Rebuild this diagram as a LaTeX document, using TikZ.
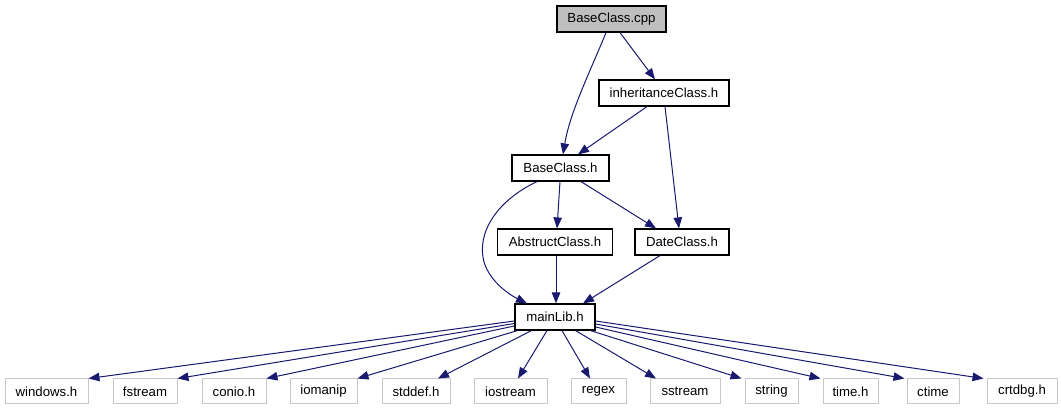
\documentclass[tikz,border=0pt]{standalone}
\usepackage{fontspec}
\setmainfont{Liberation Sans}
\usetikzlibrary{arrows.meta,calc}
\definecolor{edgeblue}{HTML}{191970}
\definecolor{boxgray}{HTML}{BFBFBF}
\definecolor{lightborder}{HTML}{C8C8C8}
\begin{document}
\begin{tikzpicture}[x=1pt,y=-1pt,
  every node/.style={font=\fontsize{13.2}{15}\selectfont, inner sep=0pt, minimum height=26pt},
  mainbox/.style={draw=black, line width=1.2pt, fill=white},
  curbox/.style={draw=black, line width=1.2pt, fill=boxgray},
  sysbox/.style={draw=lightborder, line width=1pt, fill=white, minimum height=25pt},
  dep/.style={draw=edgeblue, line width=1pt, -{Triangle[length=11pt,width=8.5pt]}}
]
\useasboundingbox (0,0) rectangle (1061,411);
% top part
\node[curbox, minimum width=109pt] (cpp) at (611.5,19) {BaseClass.cpp};
\node[mainbox, minimum width=130pt] (inh) at (664,93) {inheritanceClass.h};
\node[mainbox, minimum width=97pt] (bch) at (560.5,168) {BaseClass.h};
\node[mainbox, minimum width=115pt] (abs) at (555,242) {AbstructClass.h};
\node[mainbox, minimum width=94pt] (date) at (682,242) {DateClass.h};
\node[mainbox, minimum width=80pt] (main) at (555,317) {mainLib.h};
% bottom row
\node[sysbox, minimum width=83pt] (win) at (46.5,391.5) {windows.h};
\node[sysbox, minimum width=64pt] (fst) at (145,391.5) {fstream};
\node[sysbox, minimum width=64pt] (con) at (234,391.5) {conio.h};
\node[sysbox, minimum width=67pt] (iom) at (323.5,391.5) {iomanip};
\node[sysbox, minimum width=68pt] (std) at (416,391.5) {stddef.h};
\node[sysbox, minimum width=73pt] (ios) at (510.5,391.5) {iostream};
\node[sysbox, minimum width=55pt] (reg) at (598.5,391.5) {regex};
\node[sysbox, minimum width=70pt] (sst) at (685,391.5) {sstream};
\node[sysbox, minimum width=53pt] (str) at (771.5,391.5) {string};
\node[sysbox, minimum width=55pt] (tim) at (850.5,391.5) {time.h};
\node[sysbox, minimum width=52pt] (cti) at (933,391.5) {ctime};
\node[sysbox, minimum width=70pt] (crt) at (1022,391.5) {crtdbg.h};
% edges upper
\draw[dep] ($(cpp.south)+(-5.5,0)$) .. controls (590,72) and (570,112) .. ($(bch.north)+(2.5,0)$);
\draw[dep] ($(cpp.south)+(8.5,0)$) -- ($(inh.north)+(-9,0)$);
\draw[dep] ($(inh.south)+(-17,0)$) -- ($(bch.north)+(17.5,0)$);
\draw[dep] ($(inh.south)+(1,0)$) -- ($(date.north)+(-3,0)$);
\draw[dep] ($(bch.south)+(-0.5,0)$) -- ($(abs.north)+(2,0)$);
\draw[dep] ($(bch.south)+(20.5,0)$) -- ($(date.north)+(-26,0)$);
\draw[dep] ($(bch.south)+(-23.5,0)$) .. controls (498,200) and (476,232) .. (484,262)
  .. controls (490,282) and (510,295) .. ($(main.north)+(-28,0)$);
\draw[dep] ($(abs.south)+(1,0)$) -- ($(main.north)+(1,0)$);
\draw[dep] ($(date.south)+(-22,0)$) -- ($(main.north)+(28,0)$);
% edges to system headers
\draw[dep] ($(main.west)+(0,4)$) -- (win.north east);
\draw[dep] ($(main.west)+(0,6.5)$) -- (fst.north east);
\draw[dep] ($(main.west)+(0,9)$) -- (con.north east);
\draw[dep] ($(main.south west)+(3,0)$) -- (iom.north east);
\draw[dep] ($(main.south west)+(17,0)$) -- ($(std.north)+(22,0)$);
\draw[dep] ($(main.south)+(-8,0)$) -- ($(ios.north)+(7.5,0)$);
\draw[dep] ($(main.south)+(7,0)$) -- ($(reg.north)+(-8.5,0)$);
\draw[dep] ($(main.south east)+(-20,0)$) -- ($(sst.north)+(-29,0)$);
\draw[dep] ($(main.south east)+(-5,0)$) -- ($(str.north west)+(-3,0)$);
\draw[dep] ($(main.east)+(0,10)$) -- ($(tim.north west)+(-2,0)$);
\draw[dep] ($(main.east)+(0,7)$) -- ($(cti.north west)+(-2,0)$);
\draw[dep] ($(main.east)+(0,4)$) -- ($(crt.north west)+(-3,0)$);
\end{tikzpicture}
\end{document}
